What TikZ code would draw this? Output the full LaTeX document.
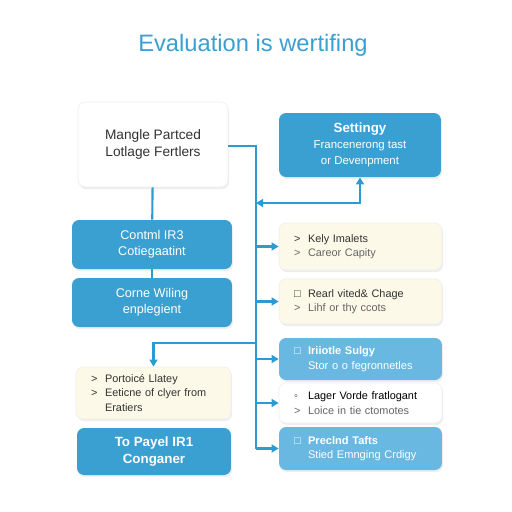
\documentclass[tikz,border=0pt]{standalone}
\usepackage{fontspec}
\setmainfont{Liberation Sans}
\usetikzlibrary{arrows.meta,shadows}

\definecolor{evblue}{RGB}{58,160,210}
\definecolor{evlight}{RGB}{104,184,226}
\definecolor{evcream}{RGB}{252,249,232}
\definecolor{evline}{RGB}{45,155,208}
\definecolor{evtext}{RGB}{50,50,50}

\newcommand{\itemmark}[1]{\makebox[8pt][l]{#1}}

\tikzset{
  box/.style={rectangle, rounded corners=4pt, inner sep=0pt,
    drop shadow={opacity=0.13, shadow xshift=0.6pt, shadow yshift=-1.2pt}},
  bluebox/.style={box, fill=evblue, text=white, align=center,
    font=\fontsize{7.2}{9.2}\selectfont},
  lightbox/.style={box, fill=evlight, text=white, align=left,
    font=\fontsize{6.3}{8.3}\selectfont},
  creambox/.style={box, fill=evcream, draw=black!6, text=evtext, align=left,
    font=\fontsize{6.2}{8.2}\selectfont},
  whitebox/.style={box, fill=white, draw=black!6, text=evtext},
  link/.style={evline, line width=1.2pt},
  arrow/.style={link, -{Triangle[length=4pt,width=4.5pt]}}
}

\begin{document}
\begin{tikzpicture}[x=0.02cm, y=-0.02cm]
\useasboundingbox[fill=white] (0,0) rectangle (512,512);

% Title
\node[text=evblue, font=\fontsize{13.5}{15}\selectfont] (title) at (253,45) {Evaluation is wertifing};

% Left column
\node[whitebox, minimum width=3.0cm, minimum height=1.7cm, align=center,
  font=\fontsize{7.8}{10}\selectfont] (mangle) at (153,144.5) {Mangle Partced\\Lotlage Fertlers};
\node[bluebox, minimum width=3.2cm, minimum height=0.98cm] (control) at (152,244.5) {Contml IR3\\Cotiegaatint};
\node[bluebox, minimum width=3.2cm, minimum height=0.98cm] (wiling) at (152,302.5) {Corne Wiling\\enplegient};
\node[creambox, minimum width=3.1cm, minimum height=1.04cm, text width=2.5cm] (portoice) at (153.5,393)
  {\itemmark{>}Portoicé Llatey\\\itemmark{>}Eeticne of clyer from\\\itemmark{}Eratiers};
\node[bluebox, minimum width=3.08cm, minimum height=0.94cm, font=\bfseries\fontsize{7.6}{10}\selectfont] (payel) at (154,451.5) {To Payel IR1\\Conganer};

% Right column
\node[bluebox, minimum width=3.24cm, minimum height=1.28cm, font=\fontsize{6.5}{9}\selectfont] (settingy) at (360,145)
  {{\bfseries\fontsize{7.6}{10}\selectfont Settingy}\\Francenerong tast\\or Devenpment};
\node[creambox, minimum width=3.26cm, minimum height=0.94cm, text width=2.66cm] (kely) at (360.5,246.5)
  {\itemmark{>}Kely Imalets\\\color{evtext!75}\itemmark{>}Careor Capity};
\node[creambox, minimum width=3.26cm, minimum height=0.9cm, text width=2.66cm] (rearl) at (360.5,301.5)
  {\itemmark{□}Rearl vited\& Chage\\\color{evtext!75}\itemmark{>}Lihf or thy ccots};
\node[lightbox, minimum width=3.26cm, minimum height=0.84cm, text width=2.66cm] (iriiotle) at (360.5,359)
  {\itemmark{□}\textbf{Iriiotle Sulgy}\\\itemmark{}Stor o o fegronnetles};
\node[whitebox, minimum width=3.26cm, minimum height=0.8cm, text width=2.66cm, align=left,
  font=\fontsize{6.2}{8.2}\selectfont] (lager) at (360.5,403)
  {\itemmark{◦}{\color{black}Lager Vorde fratlogant}\\\color{evtext!75}\itemmark{>}Loice in tie ctomotes};
\node[lightbox, minimum width=3.26cm, minimum height=0.86cm, text width=2.66cm] (preclnd) at (360.5,448.5)
  {\itemmark{□}\textbf{Preclnd Tafts}\\\itemmark{}Stied Emnging Crdigy};

% Trunk
\coordinate (trunktop) at (256,146);
\coordinate (split) at (256,343);
\coordinate (loop) at (360,203);
\draw[link] (mangle.east |- trunktop) -- (trunktop) -- (trunktop |- preclnd.west);
\draw[link] (mangle) -- (control);
\draw[link] (control) -- (wiling);

% Feedback to Settingy
\draw[link, {Triangle[length=4pt,width=4.5pt]}-{Triangle[length=4pt,width=4.5pt]}] (trunktop |- loop) -- (loop) -- (settingy.south);

% Branches
\draw[arrow] (trunktop |- kely.west) -- (kely.west);
\draw[arrow] (trunktop |- rearl.west) -- (rearl.west);
\draw[arrow] (trunktop |- iriiotle.west) -- (iriiotle.west);
\draw[arrow] (trunktop |- lager.west) -- (lager.west);
\draw[arrow] (trunktop |- preclnd.west) -- (preclnd.west);
\draw[arrow] (split) -| (portoice.north);
\end{tikzpicture}
\end{document}
